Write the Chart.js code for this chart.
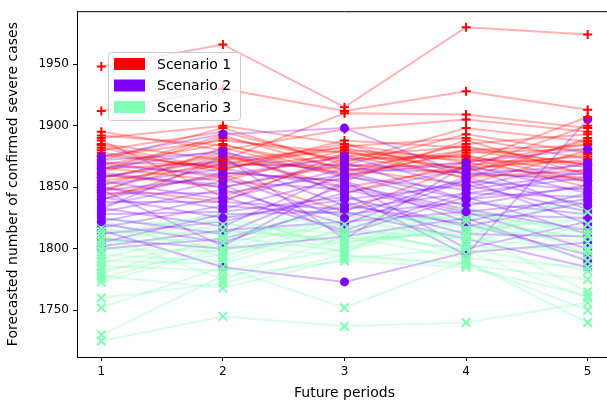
<!DOCTYPE html>
<html>
<head>
<meta charset="utf-8">
<script src="https://cdn.jsdelivr.net/npm/chart.js@4"></script>
<style>
  html, body { margin: 0; padding: 0; background: #fff; overflow: hidden; }
  #wrap { width: 620px; height: 404px; }
</style>
</head>
<body>
<div id="wrap"><canvas id="chart" width="620" height="404"></canvas></div>
<script>
const periods = [1, 2, 3, 4, 5];
const yTicks = [1750, 1800, 1850, 1900, 1950];
const scenarioNames = ['Scenario 1', 'Scenario 2', 'Scenario 3'];

// forecasts per run, one row per run, one value per future period
const scenario1Runs = [
  [1948, 1966, 1915, 1980, 1974],
  [1912, 1930, 1912, 1928, 1913],
  [1895, 1880, 1897, 1905, 1895],
  [1890, 1900, 1885, 1870, 1907],
  [1885, 1872, 1910, 1909, 1898],
  [1880, 1895, 1870, 1898, 1887],
  [1878, 1865, 1883, 1890, 1873],
  [1875, 1888, 1878, 1865, 1900],
  [1870, 1858, 1875, 1883, 1868],
  [1868, 1885, 1860, 1878, 1881],
  [1865, 1870, 1880, 1857, 1890],
  [1862, 1890, 1872, 1875, 1862],
  [1860, 1850, 1868, 1893, 1878],
  [1857, 1878, 1845, 1870, 1885],
  [1855, 1868, 1885, 1860, 1858],
  [1852, 1875, 1862, 1885, 1893],
  [1850, 1838, 1878, 1872, 1870],
  [1846, 1882, 1858, 1880, 1866],
  [1843, 1860, 1830, 1868, 1875],
  [1840, 1870, 1865, 1852, 1880],
  [1888, 1842, 1873, 1876, 1855],
  [1882, 1862, 1855, 1888, 1860],
  [1872, 1898, 1868, 1862, 1888],
  [1866, 1855, 1880, 1874, 1850],
  [1858, 1876, 1850, 1866, 1872],
  [1876, 1866, 1876, 1858, 1864],
  [1892, 1884, 1866, 1880, 1884],
  [1848, 1872, 1882, 1864, 1877],
  [1864, 1892, 1864, 1870, 1855],
  [1884, 1864, 1888, 1882, 1868]
];

const scenario2Runs = [
  [1875, 1893, 1898, 1860, 1868],
  [1872, 1878, 1860, 1870, 1881],
  [1868, 1860, 1875, 1850, 1870],
  [1865, 1880, 1845, 1865, 1860],
  [1862, 1850, 1870, 1840, 1865],
  [1858, 1872, 1835, 1855, 1848],
  [1855, 1840, 1865, 1862, 1855],
  [1852, 1865, 1850, 1830, 1840],
  [1850, 1832, 1858, 1848, 1862],
  [1847, 1858, 1825, 1858, 1835],
  [1845, 1845, 1860, 1835, 1852],
  [1842, 1825, 1840, 1852, 1830],
  [1840, 1862, 1855, 1822, 1845],
  [1838, 1838, 1832, 1845, 1858],
  [1835, 1855, 1848, 1828, 1825],
  [1833, 1818, 1862, 1840, 1850],
  [1830, 1848, 1820, 1856, 1820],
  [1828, 1830, 1842, 1818, 1838],
  [1825, 1812, 1852, 1832, 1815],
  [1822, 1842, 1815, 1845, 1842],
  [1820, 1805, 1838, 1812, 1810],
  [1817, 1835, 1828, 1838, 1828],
  [1815, 1785, 1773, 1797, 1805],
  [1812, 1822, 1845, 1795, 1905],
  [1808, 1800, 1810, 1825, 1790],
  [1805, 1828, 1830, 1808, 1785],
  [1802, 1815, 1822, 1830, 1800],
  [1860, 1852, 1812, 1842, 1812],
  [1870, 1868, 1868, 1866, 1832],
  [1800, 1808, 1835, 1820, 1795],
  [1848, 1802, 1855, 1800, 1822],
  [1832, 1875, 1808, 1868, 1845]
];

const scenario3Runs = [
  [1725, 1745, 1737, 1740, 1756],
  [1730, 1778, 1790, 1785, 1762],
  [1752, 1785, 1752, 1790, 1740],
  [1760, 1772, 1795, 1788, 1750],
  [1773, 1800, 1805, 1815, 1765],
  [1778, 1768, 1792, 1800, 1782],
  [1780, 1810, 1798, 1822, 1790],
  [1783, 1795, 1815, 1808, 1800],
  [1786, 1782, 1800, 1830, 1812],
  [1789, 1805, 1820, 1795, 1820],
  [1792, 1815, 1808, 1812, 1830],
  [1795, 1790, 1825, 1825, 1838],
  [1798, 1820, 1812, 1800, 1852],
  [1800, 1798, 1830, 1818, 1805],
  [1803, 1825, 1803, 1835, 1795],
  [1806, 1808, 1835, 1805, 1825],
  [1808, 1830, 1818, 1828, 1815],
  [1811, 1775, 1810, 1792, 1785],
  [1814, 1812, 1822, 1810, 1842],
  [1817, 1800, 1840, 1820, 1810],
  [1820, 1822, 1797, 1838, 1832],
  [1823, 1793, 1828, 1802, 1798],
  [1825, 1815, 1806, 1815, 1825],
  [1776, 1803, 1794, 1787, 1775],
  [1790, 1788, 1816, 1798, 1760],
  [1812, 1828, 1800, 1825, 1808]
];

const scenarioRuns = [scenario1Runs, scenario2Runs, scenario3Runs];
const colors = ['255, 0, 0', '128, 0, 255', '128, 255, 180'];
const markers = [
  { pointStyle: 'cross', pointRadius: 4.5, pointBorderWidth: 2 },
  { pointStyle: 'circle', pointRadius: 4.5, pointBorderWidth: 0 },
  { pointStyle: 'crossRot', pointRadius: 6, pointBorderWidth: 2 }
];

// interleave the runs so the scenarios overlap like the original
const datasets = [];
const maxRuns = Math.max(...scenarioRuns.map(r => r.length));
for (let i = 0; i < maxRuns; i++) {
  scenarioRuns.forEach((runs, s) => {
    if (!runs[i]) return;
    datasets.push({
      label: scenarioNames[s],
      data: periods.map((p, k) => ({ x: p, y: runs[i][k] })),
      borderColor: 'rgba(' + colors[s] + ', 0.3)',
      borderWidth: 2,
      pointBackgroundColor: 'rgb(' + colors[s] + ')',
      pointBorderColor: 'rgb(' + colors[s] + ')',
      pointStyle: markers[s].pointStyle,
      pointRadius: markers[s].pointRadius,
      pointBorderWidth: markers[s].pointBorderWidth,
      tension: 0
    });
  });
}

const frameAndLegend = {
  id: 'frameAndLegend',
  afterDraw(chart) {
    const ctx = chart.ctx;
    const area = chart.chartArea;
    ctx.save();
    ctx.strokeStyle = '#000';
    ctx.lineWidth = 1;
    ctx.beginPath();
    ctx.moveTo(area.left, area.top + 0.5);
    ctx.lineTo(area.right, area.top + 0.5);
    ctx.stroke();

    // legend box
    const bx = 108, by = 52, bw = 132, bh = 68;
    ctx.fillStyle = 'rgba(255, 255, 255, 0.8)';
    ctx.strokeStyle = '#cccccc';
    ctx.beginPath();
    ctx.roundRect(bx + 0.5, by + 0.5, bw, bh, 3);
    ctx.fill();
    ctx.stroke();

    ctx.font = '14px "DejaVu Sans"';
    ctx.textBaseline = 'middle';
    scenarioNames.forEach((name, s) => {
      const cy = 64 + s * 21.5;
      ctx.fillStyle = 'rgb(' + colors[s] + ')';
      ctx.fillRect(114, cy - 6, 31, 12);
      ctx.fillStyle = '#000';
      ctx.fillText(name, 157, cy + 1);
    });
    ctx.restore();
  }
};

new Chart(document.getElementById('chart'), {
  type: 'line',
  data: { datasets },
  plugins: [frameAndLegend],
  options: {
    responsive: false,
    animation: false,
    layout: { padding: { top: 10, right: 6, left: 0, bottom: 0 } },
    plugins: { legend: { display: false }, tooltip: { enabled: false } },
    scales: {
      x: {
        type: 'linear',
        min: 0.8,
        max: 5.2,
        afterBuildTicks: scale => { scale.ticks = periods.map(v => ({ value: v })); },
        afterFit: scale => { scale.height = 47; },
        ticks: { color: '#000', font: { family: 'DejaVu Sans', size: 12 }, padding: 4, callback: v => String(v) },
        grid: { drawOnChartArea: false, tickLength: 4, color: '#000' },
        border: { color: '#000', width: 1 },
        title: {
          display: true,
          text: 'Future periods',
          color: '#000',
          font: { family: 'DejaVu Sans', size: 14 },
          padding: { top: 0, bottom: 2 }
        }
      },
      y: {
        min: 1712,
        max: 1993,
        afterBuildTicks: scale => { scale.ticks = yTicks.map(v => ({ value: v })); },
        afterFit: scale => { scale.width = 77; },
        ticks: { color: '#000', font: { family: 'DejaVu Sans', size: 12 }, padding: 4, callback: v => String(v) },
        grid: { drawOnChartArea: false, tickLength: 4, color: '#000' },
        border: { color: '#000', width: 1 },
        title: {
          display: true,
          text: 'Forecasted number of confirmed severe cases',
          color: '#000',
          font: { family: 'DejaVu Sans', size: 14 },
          padding: { top: 5, bottom: 0 }
        }
      }
    }
  }
});
</script>
</body>
</html>
